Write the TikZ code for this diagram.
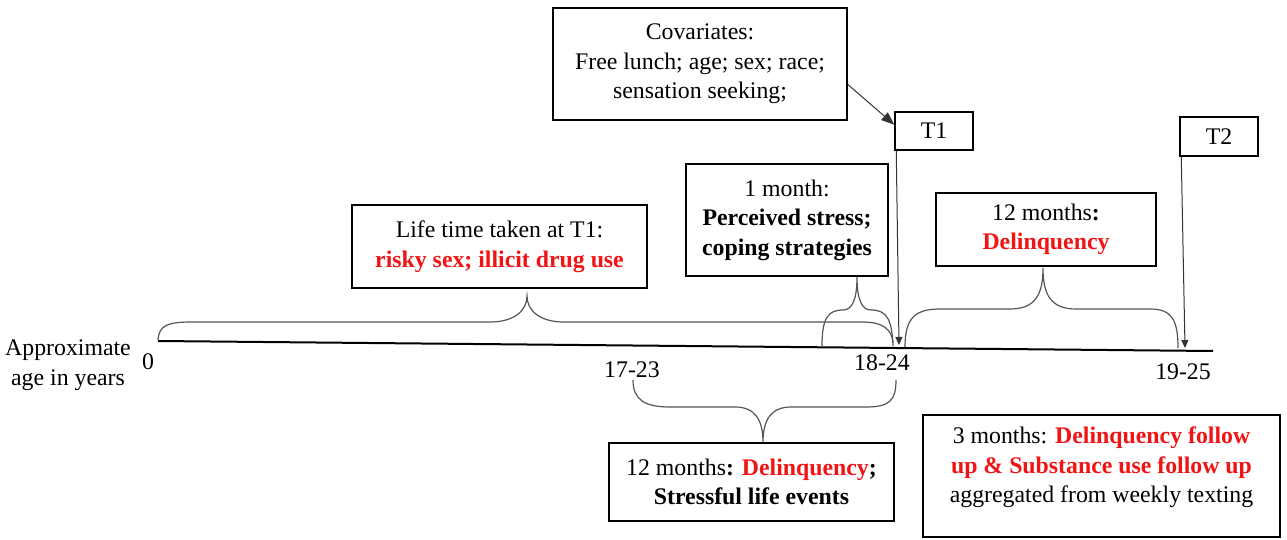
\documentclass[tikz,border=0pt]{standalone}
\usepackage{fontspec}
\setmainfont{Liberation Serif}
\usetikzlibrary{arrows.meta,calc}
\definecolor{hired}{RGB}{240,20,20}
\definecolor{linegray}{RGB}{85,85,85}
\begin{document}
\begin{tikzpicture}[x=1pt,y=-1pt,
  every node/.style={font=\fontsize{23.8}{29.5}\selectfont},
  box/.style={draw, line width=1.5pt, inner sep=0pt, align=center},
  brace/.style={draw=linegray, line width=1.2pt},
  lbl/.style={inner sep=0pt},
  conn/.style={draw=black!80, line width=1pt},
]
\useasboundingbox (0,0) rectangle (1287,540);

% boxes
\node[box, minimum width=294pt, minimum height=112pt] (cov) at (700,64) {Covariates:\\Free lunch; age; sex; race;\\sensation seeking;};
\node[box, minimum width=78pt, minimum height=38pt] (T1) at (934,131) {T1};
\node[box, minimum width=78pt, minimum height=39pt] (T2) at (1219,136.5) {T2};
\node[box, minimum width=295pt, minimum height=83pt] (life) at (499.5,246.5) {Life time taken at T1:\\\textcolor{hired}{\textbf{risky sex; illicit drug use}}};
\node[box, minimum width=202pt, minimum height=112pt] (month) at (787,220) {1 month:\\\textbf{Perceived stress;}\\\textbf{coping strategies}};
\node[box, minimum width=220pt, minimum height=73pt] (del) at (1046,229.5) {12 months\textbf{:}\\\textcolor{hired}{\textbf{Delinquency}}};
\node[box, minimum width=285pt, minimum height=78pt] (stress) at (751.5,482) {12 months\textbf{:} \textcolor{hired}{\textbf{Delinquency}}\textbf{;}\\\textbf{Stressful life events}};
\node[box, minimum width=357pt, minimum height=122pt] (follow) at (1101.5,476) {};
\node[lbl, align=center] (followtxt) at (1101.5,467.5) {3 months: \textcolor{hired}{\textbf{Delinquency follow}}\\\textcolor{hired}{\textbf{up \& Substance use follow up}}\\aggregated from weekly texting};

% timeline
\coordinate (tl0) at (158,341);
\coordinate (tl1) at (1213,351);
\draw[line width=2pt] (tl0) -- (tl1);

% labels
\node[lbl, align=center] (axis) at (68,365) {Approximate\\age in years};
\node[lbl] (zero) at (148,362) {0};
\node[lbl] (a1723) at (632,370) {17-23};
\node[lbl] (a1824) at (882,363) {18-24};
\node[lbl] (a1925) at (1183,372) {19-25};

% braces
\draw[brace] (158,340) .. controls (159,325) and (168,322) .. (192,322) -- (490,322)
  .. controls (515,322) and (527,310) .. (527,296)
  .. controls (527,310) and (539,322) .. (564,322) -- (862,322)
  .. controls (884,322) and (892,330) .. (893,343);
\draw[brace] (822,346) .. controls (822,318) and (828,310) .. (843,310)
  .. controls (852,310) and (857,300) .. (857,277)
  .. controls (857,300) and (862,310) .. (871,310)
  .. controls (886,310) and (892,318) .. (893,346);
\draw[brace] (905,347) .. controls (905,318) and (915,309) .. (940,309) -- (1010,309)
  .. controls (1035,309) and (1043,295) .. (1043,268)
  .. controls (1043,295) and (1051,309) .. (1076,309) -- (1150,309)
  .. controls (1172,309) and (1178,320) .. (1178,348);
\draw[brace] (633,380) .. controls (633,400) and (645,407) .. (670,407) -- (735,407)
  .. controls (755,407) and (763,420) .. (763,442)
  .. controls (763,420) and (771,407) .. (791,407) -- (866,407)
  .. controls (890,407) and (896,400) .. (896,380);

% connectors
\coordinate (covout) at ($(cov.north east)!0.68!(cov.south east)$);
\coordinate (t1in) at ($(T1.north west)!0.34!(T1.south west)$);
\draw[conn, -{Triangle[length=13pt,width=10pt]}] (covout) -- (t1in);
\coordinate (t1end) at (899,345);
\draw[conn, -{Triangle[length=8pt,width=7pt]}] ([xshift=2pt]T1.south west) -- (t1end);
\coordinate (t2end) at (1185,348);
\draw[conn, -{Triangle[length=8pt,width=7pt]}] ([xshift=2pt]T2.south west) -- (t2end);
\end{tikzpicture}
\end{document}
